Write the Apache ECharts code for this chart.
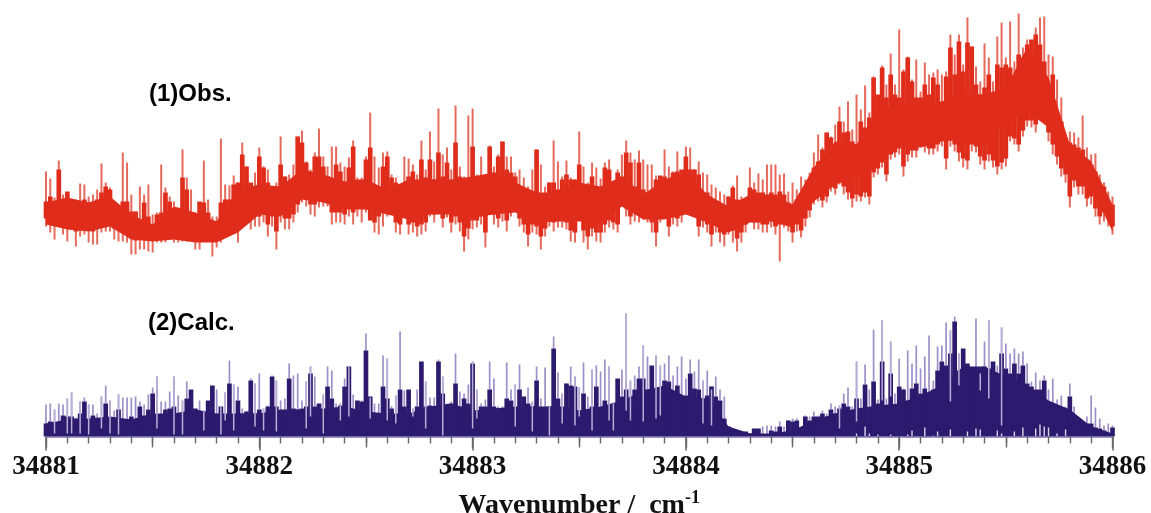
<!DOCTYPE html>
<html>
<head>
<meta charset="utf-8">
<script src="https://cdn.jsdelivr.net/npm/echarts@6/dist/echarts.min.js"></script>
<style>html,body{margin:0;padding:0;background:#fff}#c{width:1151px;height:513px}</style>
</head>
<body>
<div id="c"></div>
<script>
// Wavenumber grid of the digitised samples (cm-1)
const waveStart = 34881;
const waveStep = 0.02;
const envelopeStep = 0.1;
const tickLabels = ['34881','34882','34883','34884','34885','34886'];

const obsTop = [
265,258,239,276,242,244,235,237,253,252,
240,242,247,273,254,249,230,231,284,274,
242,225,250,242,252,222,224,272,249,240,
235,229,287,259,247,224,234,276,237,220,
220,298,252,251,261,254,294,270,250,264,
289,270,267,244,254,300,260,262,272,300,
306,275,267,284,308,280,270,290,290,274,
270,279,296,259,259,280,324,280,269,284,
285,262,259,247,280,278,272,262,296,267,
305,275,328,282,289,267,331,270,260,321,
328,262,280,249,291,270,282,295,280,280,
264,267,259,250,267,287,272,250,254,296,
275,260,276,259,257,305,270,254,274,269,
258,274,277,254,267,282,296,284,277,286,
277,272,272,261,260,287,270,265,285,265,
290,289,267,275,264,262,252,249,245,242,
240,251,261,240,237,269,254,263,257,272,
272,272,262,263,245,254,247,260,257,264,
284,302,289,304,300,312,330,315,335,307,
342,327,351,324,360,339,371,352,383,352,
407,367,380,357,377,345,374,362,364,367,
362,365,402,382,402,372,419,390,370,355,
393,379,355,400,414,379,415,375,423,389,
397,390,409,419,420,382,380,357,339,302,
305,304,299,321,289,282,283,262,254,245,240];
const obsCoreTop = [
235,240,232,267,230,245,225,230,235,237,
234,234,237,244,250,247,225,230,235,235,
225,225,214,234,220,207,222,224,244,235,
227,217,259,247,224,222,235,234,224,209,
212,234,237,237,252,254,282,270,254,244,
280,269,254,227,244,272,260,244,237,300,
294,274,265,280,280,270,260,250,272,265,
254,269,290,257,257,277,289,237,247,270,
280,259,254,240,247,260,265,250,277,259,
277,257,284,260,274,254,294,260,240,244,
290,260,260,247,290,264,280,295,267,264,
260,250,247,227,240,287,232,232,254,254,
247,257,262,257,257,272,247,250,260,247,
240,269,267,240,264,260,284,274,250,274,
247,244,244,257,261,260,252,264,265,267,
280,267,267,262,242,244,237,234,230,229,
240,249,237,234,234,249,247,244,244,240,
244,242,245,242,234,232,237,235,247,255,
269,275,287,304,299,292,315,304,305,295,
292,315,309,319,359,342,369,339,362,342,
339,365,379,355,339,339,352,342,359,352,
332,360,389,362,395,365,394,390,352,342,
349,362,342,372,369,372,369,359,382,379,
392,397,402,392,375,345,362,322,315,295,
294,292,289,287,277,272,265,252,250,235,232];
const obsCoreBottom = [
218,214,212,218,212,210,216,205,210,212,
206,205,208,214,216,214,208,206,206,204,
198,196,198,198,198,198,204,204,206,210,
206,206,208,210,208,200,198,206,208,196,
200,204,216,218,214,206,232,232,218,220,
220,224,212,220,205,224,218,218,222,232,
240,238,232,232,238,238,238,224,224,224,
222,230,224,228,232,228,216,214,220,226,
228,232,214,212,228,212,214,210,212,214,
228,222,240,218,226,214,220,214,200,208,
216,216,220,204,228,222,218,224,216,226,
234,218,212,202,212,210,200,208,218,214,
216,216,214,206,204,234,206,200,208,204,
204,212,216,214,212,238,228,220,224,222,
226,222,214,204,220,226,210,220,218,222,
234,230,226,210,216,212,202,212,204,202,
210,206,198,204,212,228,214,214,212,212,
216,210,212,216,212,204,212,206,218,226,
238,240,236,240,250,248,258,250,244,238,
242,240,244,240,264,268,274,262,282,284,
288,270,282,286,286,294,290,288,288,292,
296,278,296,292,284,278,276,292,290,280,
276,282,276,270,274,278,300,298,292,306,
316,316,312,328,332,304,292,280,268,262,
240,256,250,250,238,240,228,220,224,218,210];
const obsBottom = [
210,204,197,210,202,195,210,190,200,202,
194,192,192,204,205,205,197,195,195,194,
182,182,187,187,185,184,194,194,194,202,
194,194,195,195,200,187,187,197,200,180,
189,194,209,210,204,194,224,225,207,210,
210,214,200,210,187,214,207,207,214,224,
234,230,222,220,229,230,230,212,214,214,
212,220,212,220,214,224,222,204,202,210,
220,227,204,202,222,202,204,200,202,205,
220,214,234,209,219,204,212,205,185,197,
207,209,212,189,222,212,209,215,205,220,
227,210,204,190,204,202,187,200,210,205,
209,209,207,195,194,229,194,187,200,195,
194,204,209,207,204,234,220,212,215,214,
217,214,204,190,214,220,200,212,210,214,
227,224,220,200,209,204,190,204,194,190,
202,194,185,194,204,222,207,207,204,204,
209,202,175,209,205,194,205,199,210,219,
232,235,229,234,245,242,252,242,237,229,
235,235,239,232,259,262,269,255,277,279,
282,260,275,279,279,289,284,282,282,285,
290,267,290,285,275,269,267,285,284,272,
267,275,269,262,267,270,295,292,285,300,
310,309,304,322,325,295,282,272,260,254,
229,249,242,242,230,232,220,212,215,210,202];
// Solid part of the observed band, read every 0.1 cm-1
const obsEnvelopeHigh = [234,239,234,240,222,212,230,224,215,247,252,250,267,262,255,257,247,257,257,257,260,264,254,244,244,254,250,260,242,257,265,242,230,242,242,232,269,295,292,325,332,335,335,342,342,349,389,359,292,275,232];
const obsEnvelopeLow = [212,207,205,210,197,195,197,194,194,204,222,220,237,234,227,227,222,217,222,222,219,222,224,214,215,215,214,230,217,217,222,214,204,214,215,209,235,252,259,272,292,289,295,297,292,315,325,309,259,249,205];

// Calculated trace: stick tops and the dense body under them
const calcTop = [
32,33,27,33,32,38,44,19,35,39,
32,32,23,40,51,36,26,42,39,39,
39,40,35,32,42,49,60,35,35,45,
60,41,36,55,47,28,36,26,36,51,
47,30,44,76,52,50,28,23,58,53,
63,28,31,61,56,36,38,73,61,63,
36,55,70,60,33,42,70,66,33,33,
58,70,42,36,36,103,39,33,33,81,
78,30,41,105,46,47,28,47,75,55,
39,39,77,60,33,35,83,45,43,52,
75,47,33,37,75,58,30,30,74,47,
52,72,37,49,35,70,38,69,30,100,
64,43,33,70,60,49,74,40,67,71,
65,77,70,33,58,67,123,56,61,70,
91,80,71,81,71,73,81,61,70,80,
58,77,65,77,56,66,47,60,47,40,
10,7,5,4,5,3,8,8,10,11,
11,10,15,10,13,18,18,5,21,20,
25,21,26,23,33,30,31,43,49,30,
75,38,72,47,107,37,116,38,95,43,
78,48,86,73,91,68,80,101,56,90,
91,114,106,120,83,88,73,68,118,63,
95,116,75,71,109,93,83,88,83,85,
73,55,64,56,61,47,58,37,41,30,
53,30,20,16,20,41,29,18,11,13,11];
const calcCore = [
13,15,3,13,21,20,20,18,23,35,
2,21,17,15,33,15,15,27,15,17,
20,13,30,21,27,43,10,17,27,28,
30,10,3,38,47,28,23,17,36,51,
20,30,17,53,17,36,23,25,56,23,
27,20,30,60,30,20,23,58,28,27,
28,30,63,30,33,3,50,38,28,31,
50,70,23,36,35,86,40,20,17,50,
38,28,11,47,30,47,18,30,75,30,
31,30,75,43,31,33,53,30,38,33,
73,20,30,30,47,30,28,26,38,36,
11,47,40,33,30,56,26,23,30,88,
38,30,53,51,50,26,43,26,30,50,
26,36,20,30,58,40,47,30,47,58,
58,47,71,48,23,56,55,40,51,40,
41,63,48,47,13,41,50,40,36,18,
10,7,5,4,5,3,8,8,2,2,
6,5,10,3,16,15,16,2,20,16,
20,20,23,20,27,23,28,33,30,16,
38,28,52,28,55,33,75,30,63,30,
50,47,36,48,53,43,48,43,47,66,
75,71,83,115,66,88,73,68,63,55,
70,68,75,52,83,68,63,73,63,71,
53,50,47,47,56,31,26,15,23,20,
40,13,18,13,13,13,9,8,6,3,9];
// Solid part of the calculated band, read every 0.1 cm-1
const calcEnvelope = [13,17,18,20,17,23,23,27,23,23,23,27,27,28,30,25,23,23,30,33,26,28,30,30,30,26,30,36,46,51,40,38,10,3,3,6,16,23,28,31,33,41,51,70,70,60,51,36,27,10,3];
// Sticks whose light line cuts down through the body: sample index and foot height
const calcSlitIndex = [2,5,6,8,10,13,15,17,26,30,32,37,41,42,44,49,51,54,61,62,65,69,71,76,80,82,86,89,93,100,101,110,114,118,121,124,125,128,132,133,136,137,140,143,144,154,156,186,190,196,198,212,214,219,221,224];
const calcSlitFoot = [3,3,3,3,2,8,3,2,8,2,2,6,2,16,6,10,6,5,8,20,3,16,20,18,16,13,20,8,1,8,18,10,5,1,13,11,20,6,16,6,26,16,15,18,21,13,11,8,15,36,40,35,51,46,38,11];
// Small pale notches at the foot of the second band
const calcNotchIndex = [190,192,193,195,198,202,203,206,208,209,212,216,218,219,223,224,227,229,232,233,234,235,237,239];
const calcNotchHeight = [3,10,3,2,2,2,6,9,1,5,7,5,8,7,6,3,5,9,8,12,10,9,3,7];

const waveAt = i => waveStart + i * waveStep;
const envAt = k => waveStart + k * envelopeStep;
const seg = (api, x, a, b, color, w) => {
  const p = api.coord([x, a]), q = api.coord([x, b]);
  return {type:'line', shape:{x1:p[0],y1:p[1],x2:q[0],y2:q[1]}, style:{stroke:color,lineWidth:w,fill:null}};
};
const sticks = (name, data, color, w) => ({
  type:'custom', name, xAxisIndex:0, yAxisIndex:0, clip:false, silent:true, animation:false,
  data, encode:{x:0,y:[1,2]},
  renderItem:(p,api)=>seg(api, api.value(0), api.value(1), api.value(2), color, w)
});
const band = (name, data, color) => ({
  type:'custom', name, xAxisIndex:0, yAxisIndex:0, clip:false, silent:true, animation:false,
  data, encode:{x:0,y:[1,2]},
  renderItem:(p,api)=>{
    const a = api.coord([api.value(0), api.value(2)]), b = api.coord([api.value(0), api.value(1)]);
    const w = api.size([waveStep,0])[0] + 0.4;
    return {type:'rect', shape:{x:a[0]-w/2,y:a[1],width:w,height:b[1]-a[1]}, style:{fill:color}};
  }
});
// Filled outline between two height lists, one polygon per trace
const envelope = (name, high, low, color) => ({
  type:'custom', name, xAxisIndex:0, yAxisIndex:0, clip:false, silent:true, animation:false,
  data:[[waveStart, 0, high[0]]], encode:{x:0,y:[1,2]},
  renderItem:(p,api)=>{
    const up = high.map((v,k)=>api.coord([envAt(k), v]));
    const dn = low.map((v,k)=>api.coord([envAt(k), v])).reverse();
    return {type:'polygon', shape:{points:up.concat(dn)}, style:{fill:color}};
  }
});

const axisFont = 'Liberation Serif';
const labelFont = 'Liberation Sans';
const chart = echarts.init(document.getElementById('c'), null, {renderer:'canvas'});
chart.setOption({
  backgroundColor:'#ffffff',
  animation:false,
  title:[
    {text:'(1)Obs.', left:144, top:77, textStyle:{fontFamily:labelFont,fontWeight:'bold',fontSize:24,color:'#000'}},
    {text:'(2)Calc.', left:143, top:306, textStyle:{fontFamily:labelFont,fontWeight:'bold',fontSize:24,color:'#000'}}
  ],
  grid:[
    {left:46, right:38.5, top:0, bottom:76.5, outerBoundsMode:'none'},
    {left:46, right:38.5, top:0, bottom:76.5, outerBoundsMode:'none'}
  ],
  xAxis:[
    {type:'value', gridIndex:0, min:34881, max:34886, interval:1, position:'bottom', z:5,
     axisLine:{show:true,onZero:false,lineStyle:{color:'#7f74b4',width:1.5}},
     axisTick:{show:true,length:14,lineStyle:{color:'#666666',width:1.6}},
     minorTick:{show:true,splitNumber:10,length:7,lineStyle:{color:'#666666',width:1.4}},
     splitLine:{show:false},
     axisLabel:{show:true,margin:17,fontFamily:axisFont,fontWeight:'bold',fontSize:27,color:'#111',hideOverlap:false,
       formatter:v=>tickLabels[Math.round(v-34881)]},
     name:'{a|Wavenumber /  cm}{b|-1}', nameLocation:'middle', nameGap:53,
     nameTextStyle:{rich:{
       a:{fontFamily:axisFont,fontWeight:'bold',fontSize:28,color:'#111',verticalAlign:'bottom',lineHeight:30},
       b:{fontFamily:axisFont,fontWeight:'bold',fontSize:18,color:'#111',verticalAlign:'top',lineHeight:30}
     }}},
    {type:'value', gridIndex:1, min:34881, max:34886, interval:0.5, position:'bottom', z:4,
     axisLine:{show:false,onZero:false},
     axisTick:{show:true,length:11,lineStyle:{color:'#666666',width:1.4}},
     splitLine:{show:false}, axisLabel:{show:false}}
  ],
  yAxis:[
    {type:'value', gridIndex:0, min:0, max:436.5, show:false},
    {type:'value', gridIndex:1, min:0, max:436.5, show:false}
  ],
  series:[
    sticks('Obs. sticks', obsTop.map((v,i)=>[waveAt(i), obsBottom[i], v]), '#e56a5c', 2),
    envelope('Obs. solid band', obsEnvelopeHigh, obsEnvelopeLow, '#df2c1b'),
    band('Obs. body', obsCoreTop.map((v,i)=>[waveAt(i), obsCoreBottom[i], v]), '#df2c1b'),
    sticks('Calc. sticks', calcTop.map((v,i)=>[waveAt(i), Math.max(calcCore[i],0), v]), '#9d8fc8', 1.7),
    envelope('Calc. solid band', calcEnvelope, calcEnvelope.map(()=>0), '#2b1a6d'),
    band('Calc. body', calcCore.map((v,i)=>[waveAt(i), 0, v]), '#2b1a6d'),
    sticks('Calc. slits', calcSlitIndex.map((k,i)=>[waveAt(k), calcSlitFoot[i], calcTop[k]]), '#b9aed8', 1.5),
    sticks('Calc. notches', calcNotchIndex.map((k,i)=>[waveAt(k), 0.5, calcNotchHeight[i]]), '#d9d3ea', 1.4)
  ]
});
</script>
</body>
</html>
